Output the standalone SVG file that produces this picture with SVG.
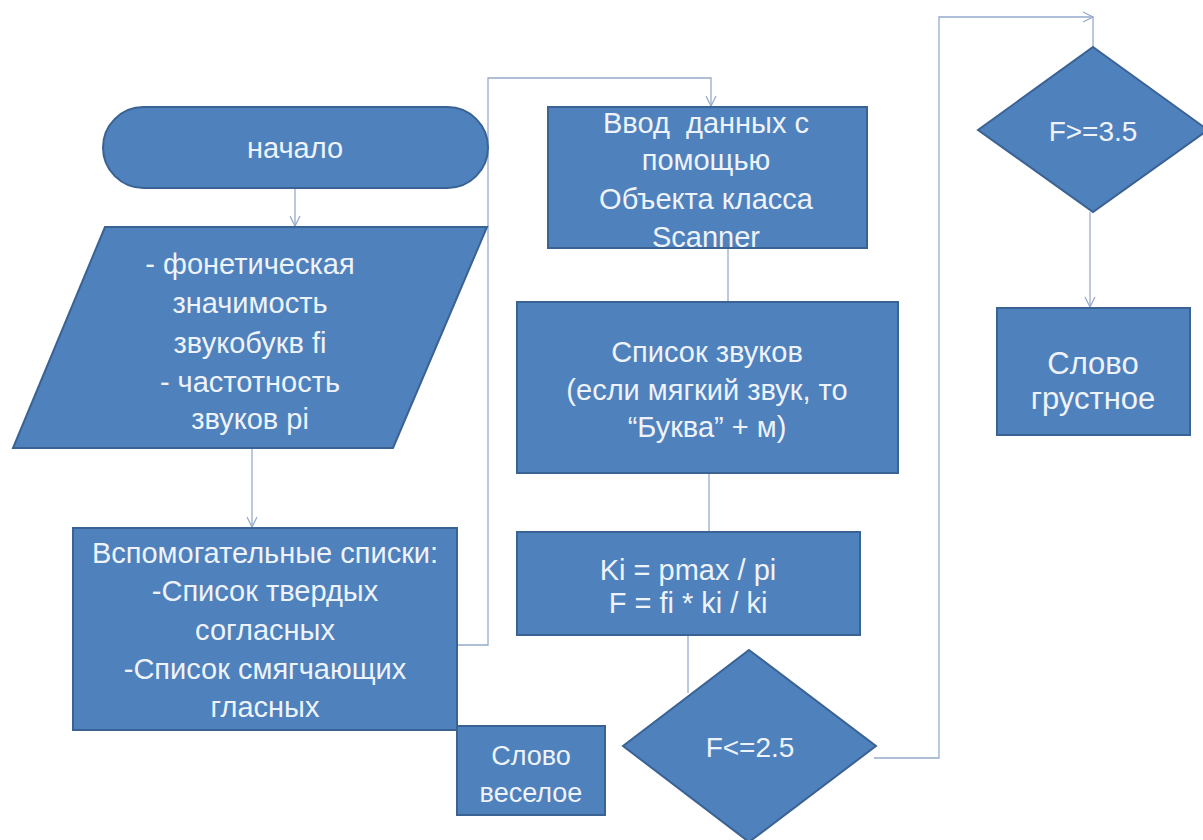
<svg xmlns="http://www.w3.org/2000/svg" width="1203" height="840" viewBox="0 0 1203 840">
<defs>
<style>
.n{fill:#4f81bd;stroke:#3a6293;stroke-width:2}
.t{fill:#eef3fb;font-family:"Liberation Sans",Arial,sans-serif;font-size:29px;text-anchor:middle;dominant-baseline:central}
.d{font-size:28px}
.s{font-size:27px}
.g{font-size:31px}
.c{fill:none;stroke:#97abcb;stroke-width:1.3}
</style>
<marker id="ah" viewBox="0 0 12 12" refX="11" refY="6" markerWidth="12" markerHeight="12" markerUnits="userSpaceOnUse" orient="auto">
<polyline points="1,1 11,6 1,11" fill="none" stroke="#97abcb" stroke-width="1.3"/>
</marker>
</defs>
<rect width="1203" height="840" fill="#ffffff"/>
<g id="connectors">
<line class="c" x1="295" y1="188" x2="295" y2="226" marker-end="url(#ah)"/>
<line class="c" x1="252" y1="448" x2="252" y2="527" marker-end="url(#ah)"/>
<polyline class="c" points="457,645 488,645 488,78 711,78 711,106" marker-end="url(#ah)"/>
<line class="c" x1="728" y1="248" x2="728" y2="302"/>
<line class="c" x1="709" y1="473" x2="709" y2="532"/>
<line class="c" x1="688" y1="635" x2="688" y2="693"/>
<polyline class="c" points="874,758 939,758 939,17 1093,17" marker-end="url(#ah)"/>
<line class="c" x1="1093" y1="17" x2="1093" y2="47"/>
<line class="c" x1="1090" y1="212" x2="1090" y2="307" marker-end="url(#ah)"/>
</g>
<g id="start">
<rect class="n" x="103" y="107" width="385" height="81" rx="40.5"/>
<text class="t" x="295" y="148">начало</text>
</g>
<g id="input">
<polygon class="n" points="105,227 487,227 393,448 13,448"/>
<text class="t" x="250" y="264">- фонетическая</text>
<text class="t" x="250" y="303">значимость</text>
<text class="t" x="250" y="343">звукобукв fi</text>
<text class="t" x="250" y="382">- частотность</text>
<text class="t" x="250" y="419">звуков pi</text>
</g>
<g id="aux">
<rect class="n" x="73" y="528" width="384" height="202"/>
<text class="t" x="265" y="553">Вспомогательные списки:</text>
<text class="t" x="265" y="591">-Список твердых</text>
<text class="t" x="265" y="630">согласных</text>
<text class="t" x="265" y="669">-Список смягчающих</text>
<text class="t" x="265" y="707">гласных</text>
</g>
<g id="happy">
<rect class="n" x="457" y="726" width="148" height="89"/>
<text class="t s" x="531" y="756">Слово</text>
<text class="t s" x="531" y="793">веселое</text>
</g>
<g id="scanner">
<rect class="n" x="548" y="107" width="319" height="141"/>
<text class="t" x="706" y="123">Ввод&#160; данных с</text>
<text class="t" x="706" y="160">помощью</text>
<text class="t" x="706" y="199">Объекта класса</text>
<text class="t" x="706" y="237">Scanner</text>
</g>
<g id="sounds">
<rect class="n" x="517" y="302" width="381" height="171"/>
<text class="t" x="707" y="352">Список звуков</text>
<text class="t" x="707" y="390">(если мягкий звук, то</text>
<text class="t" x="707" y="427">“Буква” + м)</text>
</g>
<g id="calc">
<rect class="n" x="517" y="532" width="343" height="103"/>
<text class="t" x="688" y="570">Ki = pmax / pi</text>
<text class="t" x="688" y="603">F = fi * ki / ki</text>
</g>
<g id="cond1">
<polygon class="n" points="749,650 876,746 749,842 623,746"/>
<text class="t d" x="750" y="747">F&lt;=2.5</text>
</g>
<g id="cond2">
<polygon class="n" points="1093,47 1208,130 1093,212 978,130"/>
<text class="t d" x="1093" y="131">F&gt;=3.5</text>
</g>
<g id="sad">
<rect class="n" x="997" y="308" width="193" height="127"/>
<text class="t g" x="1093" y="363">Слово</text>
<text class="t g" x="1093" y="398">грустное</text>
</g>
</svg>
